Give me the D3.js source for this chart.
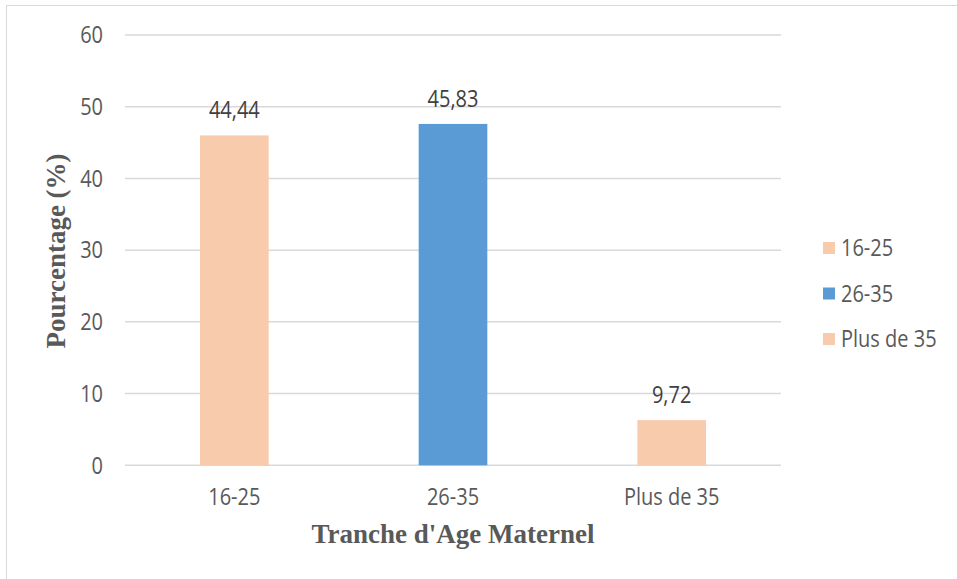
<!DOCTYPE html>
<html>
<head>
<meta charset="utf-8">
<script src="https://cdn.jsdelivr.net/npm/d3@7"></script>
<style>
    body { margin: 0; background: #fff; }
    text { font-family: "Open Sans", sans-serif; fill: #595959; }
    .ttl { font-family: "Liberation Serif", "Times New Roman", serif; font-weight: bold; }
</style>
</head>
<body>
<div id="chart"></div>
<script>
const categories = ["16-25", "26-35", "Plus de 35"];
// bar heights as drawn in the picture
const values = [46.0, 47.6, 6.3];
// data labels as printed above the bars
const labels = ["44,44", "45,83", "9,72"];
const colors = ["#f8cbad", "#5b9bd5", "#f8cbad"];
const yTicks = [0, 10, 20, 30, 40, 50, 60];

const dims = {width: 957, height: 579};
const plot = {left: 125, right: 781, top: 35, bottom: 465.3};
const stretch = 1.14; // the source text is a bit taller than it is wide

const svg = d3.select("#chart")
    .append("svg")
    .attr("width", dims.width)
    .attr("height", dims.height);

// outer frame
svg.append("rect")
    .attr("x", 6.5).attr("y", 5.5)
    .attr("width", dims.width).attr("height", dims.height)
    .attr("fill", "none")
    .attr("stroke", "#d9d9d9");

const xScale = d3.scaleBand()
    .domain(categories)
    .range([plot.left, plot.right])
    .paddingInner(0.686)
    .paddingOuter(0.343);

const yScale = d3.scaleLinear()
    .domain([0, 60])
    .range([plot.bottom, plot.top]);

const place = (x, y) => `translate(${x},${y}) scale(1,${stretch})`;

// grid
svg.append("g")
    .selectAll("line")
    .data(yTicks)
    .join("line")
    .attr("x1", plot.left).attr("x2", plot.right)
    .attr("y1", d => yScale(d)).attr("y2", d => yScale(d))
    .attr("stroke", "#d9d9d9")
    .attr("stroke-width", 1.5);

svg.append("g")
    .selectAll("text")
    .data(yTicks)
    .join("text")
    .attr("transform", d => place(103, yScale(d)))
    .attr("dy", "0.36em")
    .attr("text-anchor", "end")
    .style("font-size", "20px")
    .text(d => d);

// bars
svg.append("g")
    .selectAll("rect")
    .data(values)
    .join("rect")
    .attr("x", (d, i) => xScale(categories[i]))
    .attr("width", xScale.bandwidth())
    .attr("y", d => yScale(d))
    .attr("height", d => yScale(0) - yScale(d))
    .attr("fill", (d, i) => colors[i]);

svg.append("g")
    .selectAll("text")
    .data(values)
    .join("text")
    .attr("transform", (d, i) => place(xScale(categories[i]) + xScale.bandwidth() / 2, yScale(d) - 17))
    .attr("text-anchor", "middle")
    .style("font-size", "20px")
    .style("fill", "#404040")
    .text((d, i) => labels[i]);

// x tick labels
svg.append("g")
    .selectAll("text")
    .data(categories)
    .join("text")
    .attr("transform", d => place(xScale(d) + xScale.bandwidth() / 2, 505))
    .attr("text-anchor", "middle")
    .style("font-size", "20px")
    .text(d => d);

// axis titles
svg.append("text")
    .attr("class", "ttl")
    .attr("x", 453).attr("y", 543)
    .attr("text-anchor", "middle")
    .style("font-size", "27px")
    .text("Tranche d'Age Maternel");

svg.append("text")
    .attr("class", "ttl")
    .attr("transform", "translate(65,251) rotate(-90)")
    .attr("text-anchor", "middle")
    .style("font-size", "27px")
    .text("Pourcentage (%)");

// legend
const legend = svg.append("g")
    .selectAll("g")
    .data(categories)
    .join("g")
    .attr("transform", (d, i) => `translate(823,${248 + i * 45.5})`);

legend.append("rect")
    .attr("y", -6)
    .attr("width", 12).attr("height", 12)
    .attr("fill", (d, i) => colors[i]);

legend.append("text")
    .attr("transform", place(18, 0))
    .attr("dy", "0.36em")
    .style("font-size", "20px")
    .text(d => d);
</script>
</body>
</html>
